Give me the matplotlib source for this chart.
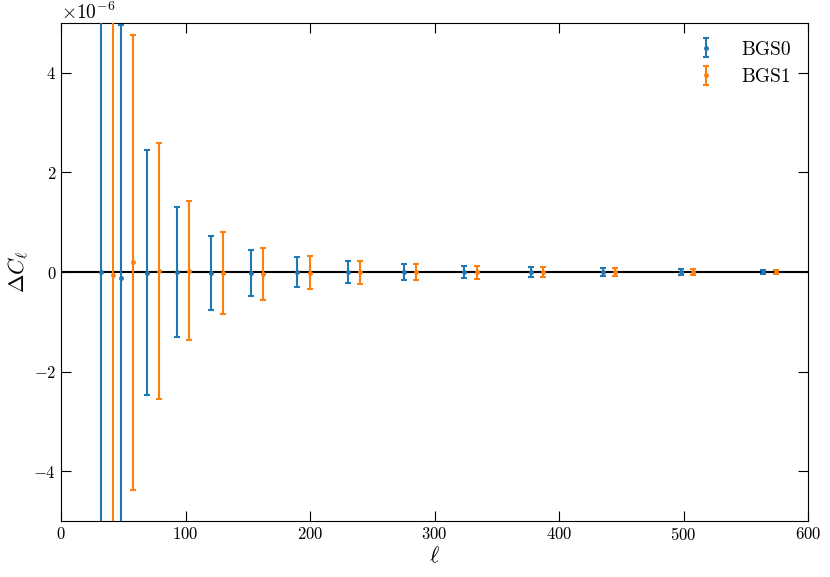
import matplotlib
matplotlib.use("Agg")
import matplotlib.pyplot as plt
import numpy as np

plt.rcParams['font.family'] = 'serif'
plt.rcParams['font.serif'] = ['cmr10']
plt.rcParams['mathtext.fontset'] = 'cm'
plt.rcParams['axes.formatter.use_mathtext'] = True
plt.rcParams['axes.unicode_minus'] = True

ell = np.array([32, 48, 69, 93, 120.5, 152.6, 189.6, 230.5, 275.5, 324, 377.5, 435, 497.7, 564])
ell_offset = 10.0

bgs0_val = np.array([0.0, -0.12, -0.01, 0.0, -0.02, -0.02, 0.0, 0.0, 0.0, 0.0, 0.0, 0.0, 0.0, 0.0]) * 1e-6
bgs0_err = np.array([8.0, 5.08, 2.46, 1.31, 0.75, 0.47, 0.30, 0.215, 0.157, 0.127, 0.097, 0.074, 0.06, 0.047]) * 1e-6
bgs1_val = np.array([-0.05, 0.195, 0.03, 0.03, -0.02, -0.04, -0.01, 0.0, 0.0, 0.0, 0.0, 0.0, 0.0, 0.0]) * 1e-6
bgs1_err = np.array([7.0, 4.57, 2.57, 1.40, 0.82, 0.52, 0.33, 0.23, 0.167, 0.13, 0.104, 0.077, 0.06, 0.047]) * 1e-6

fig = plt.figure(figsize=(8.3, 5.77), dpi=100)
ax = fig.add_axes([0.0735, 0.097, 0.9, 0.863])

ax.axhline(0, color='black', lw=1.5, zorder=1)
ax.errorbar(ell, bgs0_val, yerr=bgs0_err, fmt='.', color='C0', capsize=2.5, elinewidth=1.5,
            capthick=1.5, markersize=5, label='BGS0', zorder=3)
ax.errorbar(ell + ell_offset, bgs1_val, yerr=bgs1_err, fmt='.', color='C1', capsize=2.5, elinewidth=1.5,
            capthick=1.5, markersize=5, label='BGS1', zorder=3)

ax.set_xlim(0, 600)
ax.set_ylim(-5e-6, 5e-6)
ax.set_yticks(np.array([-4, -2, 0, 2, 4]) * 1e-6)
ax.tick_params(direction='in', top=True, right=True, length=7, labelsize=12)
ax.yaxis.get_offset_text().set_fontsize(14)
ax.set_xlabel(r'$\ell$', fontsize=16, labelpad=2)
ax.set_ylabel(r'$\Delta C_\ell$', fontsize=16, labelpad=2)
ax.legend(loc='upper right', frameon=False, fontsize=14)

fig.savefig('out.png', dpi=100)
